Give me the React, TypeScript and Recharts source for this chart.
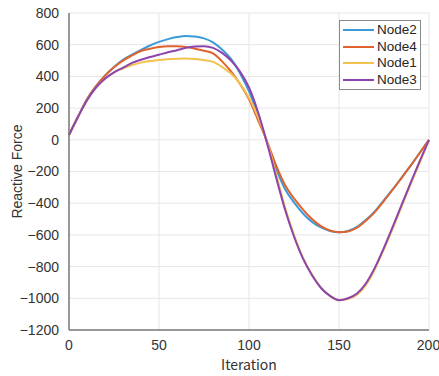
import React from 'react';
import { LineChart, Line, XAxis, YAxis, CartesianGrid } from 'recharts';

const iterations = [
  0, 5, 10, 15, 20, 25, 30, 35, 40, 45, 50, 55, 60, 65, 70, 75, 80, 85, 90, 95, 100,
  105, 110, 115, 120, 125, 130, 135, 140, 145, 150, 155, 160, 165, 170, 175, 180, 185, 190, 195, 200,
];

const node2 = [
  30, 145, 255, 338, 405, 460, 505, 538, 568, 595, 618, 635, 648, 655, 652, 640, 615, 570, 510, 420, 305,
  160, -15, -180, -310, -395, -465, -518, -553, -575, -583, -575, -550, -505, -450, -380, -310, -235, -160, -80, 0,
];

const node4 = [
  30, 145, 255, 338, 405, 458, 500, 532, 560, 575, 585, 590, 590, 585, 575, 562, 545, 495, 432, 352, 255,
  125, -10, -160, -285, -370, -440, -500, -545, -572, -583, -578, -555, -510, -455, -385, -312, -237, -160, -80, 0,
];

const node1 = [
  30, 145, 250, 330, 385, 425, 450, 472, 487, 497, 503, 508, 512, 513, 510, 503, 492, 460, 418, 355, 265,
  145, -10, -215, -425, -600, -745, -850, -932, -985, -1012, -1005, -978, -915, -815, -690, -555, -415, -275, -140, 0,
];

const node3 = [
  30, 145, 250, 330, 385, 425, 455, 485, 505, 522, 537, 552, 565, 580, 588, 590, 580, 548, 500, 430, 330,
  175, -20, -235, -440, -610, -750, -855, -935, -985, -1012, -1000, -970, -905, -805, -680, -545, -405, -265, -130, 0,
];

const xTicks = [0, 50, 100, 150, 200];
const yTicks = [-1200, -1000, -800, -600, -400, -200, 0, 200, 400, 600, 800];

const series = [
  { key: 'node2', name: 'Node2', color: '#3d9ad8' },
  { key: 'node4', name: 'Node4', color: '#e0632d' },
  { key: 'node1', name: 'Node1', color: '#f2c14e' },
  { key: 'node3', name: 'Node3', color: '#8e44ad' },
];

const data = iterations.map((it, i) => ({
  it,
  node2: node2[i],
  node4: node4[i],
  node1: node1[i],
  node3: node3[i],
}));

const fmt = (v: number) => String(v).replace('-', '\u2212');

const LegendBox = () => (
  <div
    style={{
      position: 'absolute',
      left: 339,
      top: 20,
      border: '1px solid #8a8a8a',
      background: '#fff',
      padding: '1px 3px 1px 3px',
      fontFamily: '"Liberation Sans", Arial, sans-serif',
      fontSize: 13.5,
      color: '#262626',
      lineHeight: '16.5px',
    }}
  >
    {series.map((s) => (
      <div key={s.key} style={{ display: 'flex', alignItems: 'center', height: 16.5 }}>
        <div style={{ width: 31, height: 2, background: s.color, marginRight: 3 }} />
        <span>{s.name}</span>
      </div>
    ))}
  </div>
);

export default function App() {
  return (
    <div style={{ position: 'absolute', left: 0, top: 0, width: 439, height: 376, background: '#fff' }}>
      <LineChart
        width={439}
        height={376}
        data={data}
        margin={{ top: 13, right: 10, bottom: 0, left: 0 }}
      >
        <CartesianGrid stroke="#e6e6e6" strokeWidth={1} />
        <XAxis
          dataKey="it"
          type="number"
          domain={[0, 200]}
          ticks={xTicks}
          height={46}
          tickLine={false}
          axisLine={{ stroke: '#7a7a7a', strokeWidth: 1.5 }}
          tick={{ fontSize: 14, fill: '#333', fontFamily: '"Liberation Sans", Arial, sans-serif' }}
          tickMargin={4}
          label={{
            value: 'Iteration',
            position: 'insideBottom',
            offset: 6,
            fontSize: 14,
            fill: '#333',
            fontFamily: '"Noto Sans CJK JP", sans-serif',
          }}
        />
        <YAxis
          type="number"
          domain={[-1200, 800]}
          ticks={yTicks}
          width={69}
          tickLine={false}
          axisLine={{ stroke: '#7a7a7a', strokeWidth: 1.5 }}
          tick={{ fontSize: 14, fill: '#333', fontFamily: '"Liberation Sans", Arial, sans-serif' }}
          tickFormatter={fmt}
          tickMargin={4}
          label={{
            value: 'Reactive Force',
            angle: -90,
            position: 'insideLeft',
            offset: 17,
            style: { textAnchor: 'middle' },
            fontSize: 14,
            fill: '#333',
            fontFamily: '"Liberation Sans", Arial, sans-serif',
          }}
        />
        {series.map((s) => (
          <Line
            key={s.key}
            type="monotone"
            dataKey={s.key}
            name={s.name}
            stroke={s.color}
            strokeWidth={2}
            dot={false}
            isAnimationActive={false}
          />
        ))}
      </LineChart>
      <LegendBox />
    </div>
  );
}
